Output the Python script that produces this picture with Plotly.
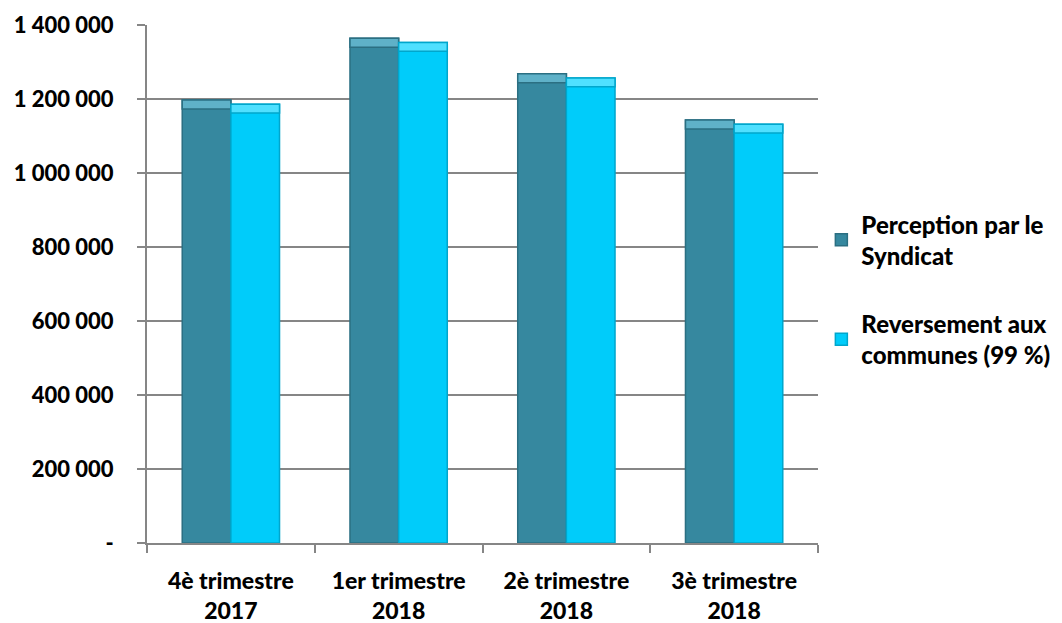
import plotly.graph_objects as go

categories = ["4è trimestre<br>2017", "1er trimestre<br>2018", "2è trimestre<br>2018", "3è trimestre<br>2018"]
perception = [1197000, 1364000, 1268000, 1143000]
reversement = [1186000, 1353000, 1257000, 1132000]
series_names = ["Perception par le<br>Syndicat", "Reversement aux<br>communes (99 %)"]
y_tickvals = [0, 200000, 400000, 600000, 800000, 1000000, 1200000, 1400000]
y_ticktext = ["-", "200 000", "400 000", "600 000", "800 000", "1 000 000", "1 200 000", "1 400 000"]

FONT = "Lato"
CAP = 24000  # depth of the lighter bevel band at the top of each bar (data units)

fig = go.Figure()
fig.add_trace(go.Bar(
    x=categories, y=perception, name=series_names[0], legendgroup="a", offsetgroup="a",
    marker=dict(color="#36889F", line=dict(color="#2B6F82", width=1.5)),
))
fig.add_trace(go.Bar(
    x=categories, y=reversement, name=series_names[1], legendgroup="b", offsetgroup="b",
    marker=dict(color="#00CCFA", line=dict(color="#00A6CC", width=1.5)),
))
# lighter bevel caps
fig.add_trace(go.Bar(
    x=categories, y=[CAP] * len(perception), base=[v - CAP for v in perception],
    offsetgroup="a", legendgroup="a", showlegend=False, hoverinfo="skip",
    marker=dict(color="#5FB1C8", line=dict(color="#2B6F82", width=1.5)),
))
fig.add_trace(go.Bar(
    x=categories, y=[CAP] * len(reversement), base=[v - CAP for v in reversement],
    offsetgroup="b", legendgroup="b", showlegend=False, hoverinfo="skip",
    marker=dict(color="#4FE0FF", line=dict(color="#00A6CC", width=1.5)),
))

fig.update_layout(
    width=1062, height=623,
    margin=dict(l=139, r=252, t=17, b=88, autoexpand=False),
    paper_bgcolor="white", plot_bgcolor="white",
    barmode="group", bargap=0.42, bargroupgap=0.0,
    font=dict(family=FONT, size=22, color="black"),
    showlegend=True,
    legend=dict(
        x=1.005, y=0.658, xanchor="left", yanchor="top",
        font=dict(family=FONT, size=24, color="black", weight=900),
        tracegroupgap=34, traceorder="grouped",
        bgcolor="rgba(0,0,0,0)",
    ),
    xaxis=dict(
        automargin=False,
        showline=True, linecolor="#868686", linewidth=2,
        ticks="outside", ticklen=8, tickcolor="#868686", tickwidth=2,
        tickson="boundaries",
        tickfont=dict(family=FONT, size=23, weight=900),
        ticklabelstandoff=16,
        showgrid=False,
    ),
    yaxis=dict(
        automargin=False,
        range=[0, 1400000],
        tickvals=y_tickvals, ticktext=y_ticktext,
        showline=True, linecolor="#868686", linewidth=2,
        ticks="outside", ticklen=8, tickcolor="#868686", tickwidth=2,
        showgrid=True, gridcolor="#868686", gridwidth=2,
        tickfont=dict(family=FONT, size=22, weight=900),
        ticklabelstandoff=19,
        zeroline=False,
    ),
)

fig.write_html("out.html")
